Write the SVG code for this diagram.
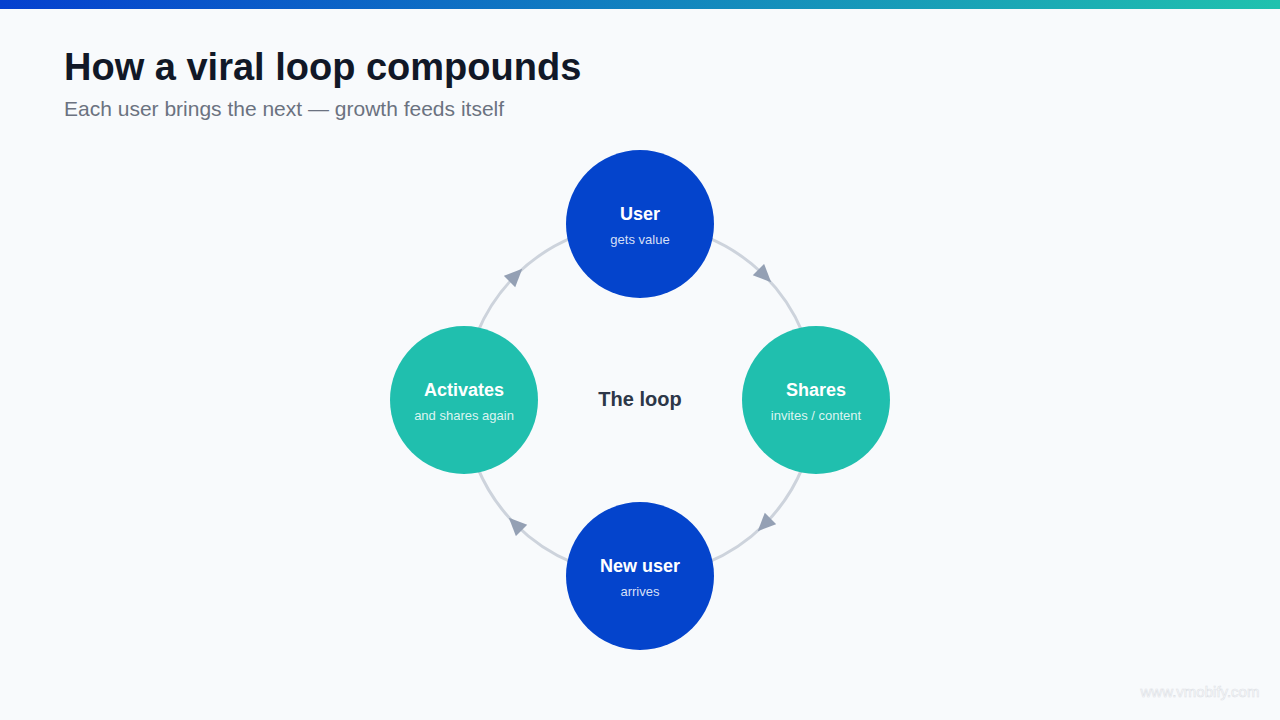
<svg xmlns="http://www.w3.org/2000/svg" width="1280" height="720" viewBox="0 0 1280 720">
  <defs>
    <linearGradient id="bar" x1="0" y1="0" x2="1" y2="0">
      <stop offset="0" stop-color="#0540cf"/>
      <stop offset="0.5" stop-color="#1282bf"/>
      <stop offset="1" stop-color="#20c2ae"/>
    </linearGradient>
    <marker id="arrow" markerUnits="userSpaceOnUse" markerWidth="20" markerHeight="18" refX="8.5" refY="8" orient="auto" viewBox="0 0 20 18">
      <path d="M0,0 L18,8 L0,16 Z" fill="#94a0b4"/>
    </marker>
    <style>
      .title{font-family:"Liberation Sans",Arial,sans-serif;font-weight:700;font-size:38px;fill:#111827}
      .sub{font-family:"Liberation Sans",Arial,sans-serif;font-size:21px;fill:#6b7280}
      .ring{fill:none;stroke:#cdd3dc;stroke-width:3;marker-mid:url(#arrow)}
      .blue{fill:#0444cc}
      .teal{fill:#20bfae}
      .nt{font-family:"Liberation Sans",Arial,sans-serif;font-weight:700;font-size:18px;fill:#ffffff;text-anchor:middle}
      .ns{font-family:"Liberation Sans",Arial,sans-serif;font-size:13px;fill:#ffffff;fill-opacity:0.85;text-anchor:middle}
      .center{font-family:"Liberation Sans",Arial,sans-serif;font-weight:700;font-size:20px;fill:#2d3748;text-anchor:middle}
      .wm{font-family:"Liberation Sans",Arial,sans-serif;font-size:15px;fill:#ffffff;stroke:#dde1e6;stroke-width:0.6;text-anchor:middle}
    </style>
  </defs>
  <rect width="1280" height="720" fill="#f8fafc"/>
  <rect width="1280" height="9" fill="url(#bar)"/>
  <text class="title" x="64" y="80">How a viral loop compounds</text>
  <text class="sub" x="64" y="116">Each user brings the next — growth feeds itself</text>

  <g id="connectors">
    <path class="ring" d="M640,224 A176,176 0 0 1 764.45,275.55 A176,176 0 0 1 816,400"/>
    <path class="ring" d="M816,400 A176,176 0 0 1 764.45,524.45 A176,176 0 0 1 640,576"/>
    <path class="ring" d="M640,576 A176,176 0 0 1 515.55,524.45 A176,176 0 0 1 464,400"/>
    <path class="ring" d="M464,400 A176,176 0 0 1 515.55,275.55 A176,176 0 0 1 640,224"/>
  </g>

  <g id="node-user">
    <circle class="blue" cx="640" cy="224" r="74"/>
    <text class="nt" x="640" y="220">User</text>
    <text class="ns" x="640" y="244">gets value</text>
  </g>
  <g id="node-shares">
    <circle class="teal" cx="816" cy="400" r="74"/>
    <text class="nt" x="816" y="396">Shares</text>
    <text class="ns" x="816" y="420">invites / content</text>
  </g>
  <g id="node-newuser">
    <circle class="blue" cx="640" cy="576" r="74"/>
    <text class="nt" x="640" y="572">New user</text>
    <text class="ns" x="640" y="596">arrives</text>
  </g>
  <g id="node-activates">
    <circle class="teal" cx="464" cy="400" r="74"/>
    <text class="nt" x="464" y="396">Activates</text>
    <text class="ns" x="464" y="420">and shares again</text>
  </g>
  <g id="center-label">
    <text class="center" x="640" y="406">The loop</text>
  </g>
  <text class="wm" x="1200" y="697">www.vmobify.com</text>
</svg>
